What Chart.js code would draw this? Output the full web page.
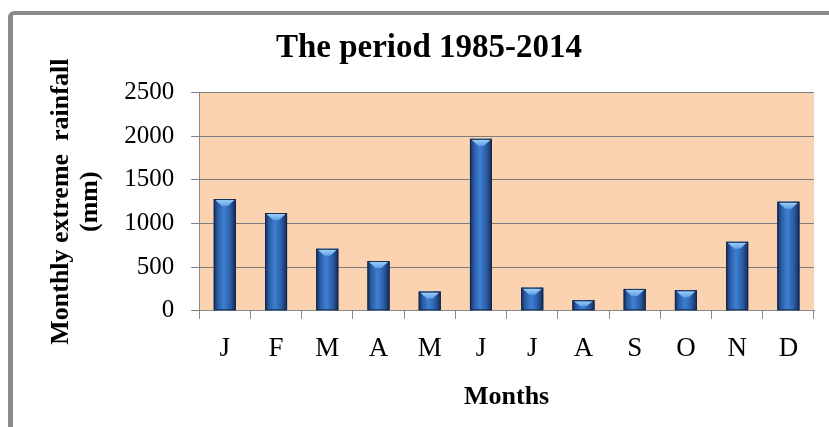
<!DOCTYPE html>
<html>
<head>
<meta charset="utf-8">
<title>Monthly extreme rainfall</title>
<script src="https://cdn.jsdelivr.net/npm/chart.js@4.4.0/dist/chart.umd.min.js"></script>
<style>
  html, body { margin: 0; padding: 0; background: #fff; }
  #wrap { position: relative; width: 829px; height: 427px; overflow: hidden; }
  /* grey frame round the chart (runs off the right and bottom edges) */
  #frame {
    position: absolute; left: 8px; top: 11px; width: 900px; height: 500px;
    border-top: 4px solid #8a8a8a; border-left: 5px solid #8a8a8a;
    border-top-left-radius: 6px;
  }
  canvas { position: absolute; left: 0; top: 0; }
</style>
</head>
<body>
<div id="wrap">
  <div id="frame"></div>
  <canvas id="rainfall-chart" width="829" height="427"></canvas>
</div>
<script>
// month initials along the x axis
let months = ['J', 'F', 'M', 'A', 'M', 'J', 'J', 'A', 'S', 'O', 'N', 'D'];
// monthly extreme rainfall, mm (1985-2014)
let rainfall = [1280, 1120, 710, 570, 220, 1970, 265, 120, 250, 235, 790, 1250];
// y axis range
let yMin = 0;
let yMax = 2500;
let yStep = 500;

let serif = "'Liberation Serif', 'Times New Roman', serif";

// peach fill behind the plot area
const plotBackground = {
    id: 'plotBackground',
    beforeDraw(chart) {
        const {ctx, chartArea: a} = chart;
        ctx.save();
        ctx.fillStyle = '#fbd3b1';
        ctx.fillRect(a.left, a.top, a.right - a.left, a.bottom - a.top);
        ctx.restore();
    }
};

// shade each bar like a rounded column with a light bevel on top
const barShading = {
    id: 'barShading',
    afterDatasetsDraw(chart) {
        const ctx = chart.ctx;
        ctx.save();
        chart.getDatasetMeta(0).data.forEach(bar => {
            const {x, y, base, width} = bar.getProps(['x', 'y', 'base', 'width'], true);
            const left = x - width / 2;
            const g = ctx.createLinearGradient(left, 0, left + width, 0);
            g.addColorStop(0, '#142f58');
            g.addColorStop(0.18, '#2a5ca6');
            g.addColorStop(0.45, '#3f80d2');
            g.addColorStop(0.75, '#2a5ca6');
            g.addColorStop(1, '#132b52');
            ctx.fillStyle = g;
            ctx.fillRect(left, y, width, base - y);

            // bevel cap
            const capH = Math.min(7, (base - y) * 0.6);
            const cg = ctx.createLinearGradient(0, y, 0, y + capH);
            cg.addColorStop(0, '#a9d6fb');
            cg.addColorStop(1, '#5d9fe6');
            ctx.fillStyle = cg;
            ctx.beginPath();
            ctx.moveTo(left + 1.5, y + 1);
            ctx.lineTo(left + width - 1.5, y + 1);
            ctx.lineTo(x + 3, y + capH);
            ctx.lineTo(x - 3, y + capH);
            ctx.closePath();
            ctx.fill();

            ctx.strokeStyle = 'rgba(15,35,70,0.8)';
            ctx.lineWidth = 1;
            ctx.strokeRect(left + 0.5, y + 0.5, width - 1, base - y - 1);
        });
        ctx.restore();
    }
};

let rainfallChart = new Chart(document.querySelector('#rainfall-chart').getContext('2d'), {
    type: 'bar',
    data: {
        labels: months,
        datasets: [{
            label: 'Monthly extreme rainfall (mm)',
            data: rainfall,
            backgroundColor: '#2a5ca6',
            barPercentage: 0.43,
            categoryPercentage: 1.0,
        }]
    },
    options: {
        responsive: false,
        animation: false,
        layout: {
            padding: {left: 44, right: 15, top: 0, bottom: 9}
        },
        plugins: {
            legend: {display: false},
            tooltip: {enabled: false},
            title: {
                display: true,
                text: 'The period 1985-2014',
                color: '#000',
                font: {family: serif, size: 33, weight: 'bold', lineHeight: 1.2},
                padding: {top: 29, bottom: 24}
            }
        },
        scales: {
            x: {
                grid: {
                    drawOnChartArea: false,
                    drawTicks: true,
                    tickLength: 8,
                    color: '#8a8a8a'
                },
                border: {color: '#8a8a8a'},
                ticks: {
                    color: '#000',
                    padding: 15,
                    font: {family: serif, size: 27, lineHeight: 1.15}
                },
                title: {
                    display: true,
                    text: 'Months',
                    color: '#000',
                    font: {family: serif, size: 26, weight: 'bold', lineHeight: 1.2},
                    padding: {top: 2, bottom: 5}
                }
            },
            y: {
                min: yMin,
                max: yMax,
                ticks: {
                    stepSize: yStep,
                    color: '#000',
                    padding: 17,
                    font: {family: serif, size: 25},
                    callback: value => String(value)
                },
                grid: {
                    color: '#7d7d7d',
                    tickLength: 8
                },
                border: {color: '#8a8a8a'},
                title: {
                    display: true,
                    text: ['Monthly extreme  rainfall', '(mm)'],
                    color: '#000',
                    font: {family: serif, size: 26, weight: 'bold', lineHeight: 1.1},
                    padding: {top: 3, bottom: 3}
                }
            }
        }
    },
    plugins: [plotBackground, barShading]
});
</script>
</body>
</html>
